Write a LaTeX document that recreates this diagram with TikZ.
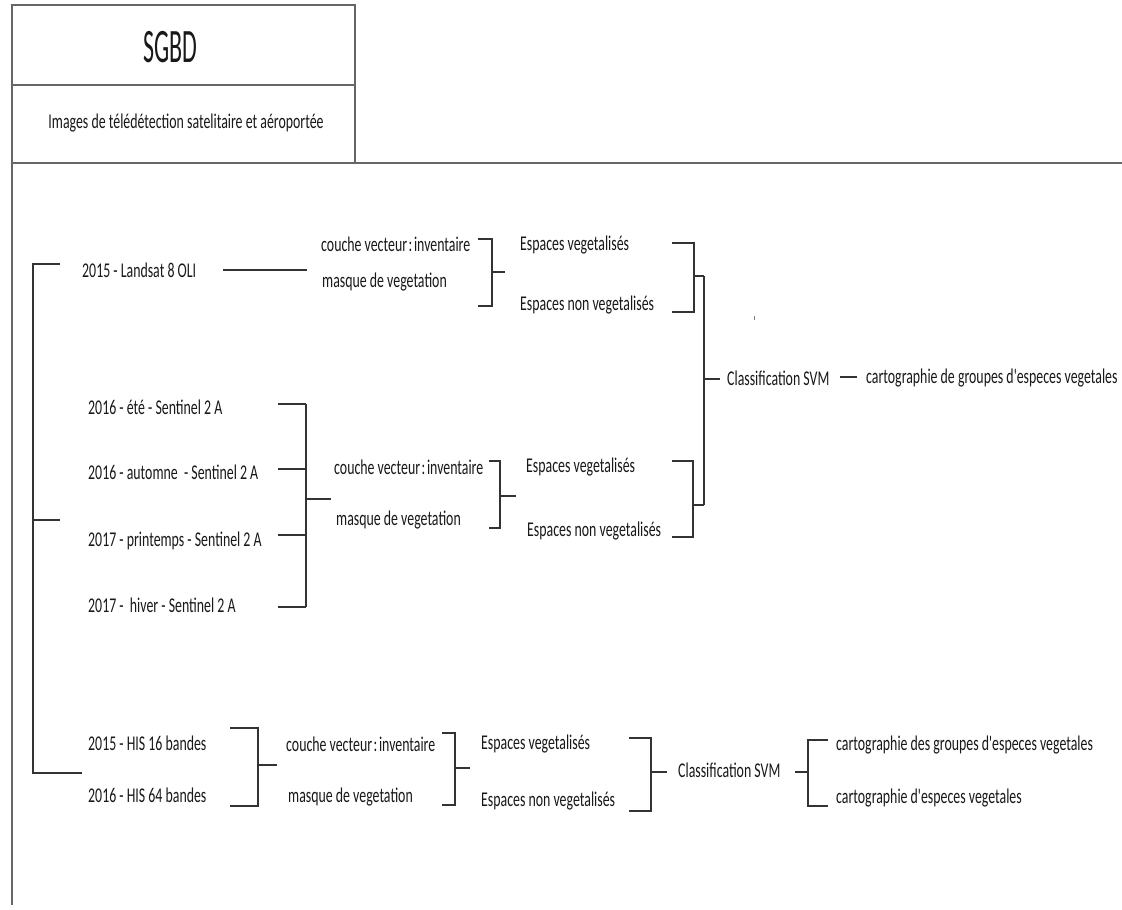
\documentclass[tikz,border=0pt]{standalone}
\usepackage{fontspec}
\newfontfamily\lblfam{Carlito}[FakeStretch=0.66]
\newfontfamily\titlefam{Carlito}[FakeStretch=0.5]
\newcommand{\cln}{\hspace{1.6pt}:\hspace{1.6pt}}
\begin{document}
\begin{tikzpicture}[x=1pt,y=-1pt,
  conn/.style={line width=1.5pt, draw=black!80},
  framel/.style={line width=1.2pt, draw=black!60},
  lbl/.style={font=\lblfam\fontsize{21}{23}\selectfont, text=black!90, inner sep=0pt, anchor=west, text height=16.5pt, text depth=4pt}]
\useasboundingbox (0,0) rectangle (1122,910);
\fill[white] (0,0) rectangle (1122,910);
% frame
\draw[framel] (12,5) rectangle (355,163);
\draw[framel] (12,85) -- (355,85);
\draw[framel] (12,163) -- (1122,163);
\draw[framel] (12,163) -- (12,905);
\node[font=\titlefam\fontsize{48}{48}\selectfont, text=black!90, inner sep=0pt] (sgbd) at (170,47) {SGBD};
\node[lbl, anchor=center] (img) at (186,122) {Images de télédétection satelitaire et aéroportée};

% outer bracket
\coordinate (o1) at (60,264); \coordinate (o2) at (33,264);
\coordinate (o3) at (33,773); \coordinate (o4) at (82,773);
\coordinate (om) at (33,520); \coordinate (omr) at (60,520);
\draw[conn] (o1) -- (o2) -- (o3) -- (o4);
\draw[conn] (om) -- (omr);

% group 1
\node[lbl] (l8) at (82,271) {2015 - Landsat 8 OLI};
\node[lbl] (cv1) at (321,245) {couche vecteur\cln inventaire};
\node[lbl] (mv1) at (322,281) {masque de vegetation};
\node[lbl] (ev1) at (520,244) {Espaces vegetalisés};
\node[lbl] (en1) at (520,304) {Espaces non vegetalisés};
\coordinate (g1a) at (223,270); \coordinate (g1b) at (307,270);
\draw[conn] (g1a) -- (g1b);
\draw[conn] (478,239) -- (492,239) -- (492,306) -- (478,306);
\draw[conn] (492,272) -- (505,272);
\draw[conn] (672,243) -- (694,243) -- (694,312) -- (672,312);
\draw[conn] (694,276) -- (704,276) coordinate (vtop);
\draw[conn] (vtop) -- (704,505) coordinate (vbot);
\draw[conn] (704,379) -- (720,379);
\node[lbl] (cls1) at (727,379) {Classification SVM};
\coordinate (d1) at (840,377); \coordinate (d2) at (857,377);
\draw[conn] (d1) -- (d2);
\node[lbl] (cart1) at (866,377) {cartographie de groupes d'especes vegetales};
\draw[line width=1pt, draw=black!50] (754,316) -- (754,320);

% group 2
\node[lbl] (s1) at (88,408) {2016 - été - Sentinel 2 A};
\node[lbl] (s2) at (88,473) {2016 - automne\ \ - Sentinel 2 A};
\node[lbl] (s3) at (88,540) {2017 - printemps - Sentinel 2 A};
\node[lbl] (s4) at (88,606) {2017 -\ \ hiver - Sentinel 2 A};
\draw[conn] (278,404) -- (306,404);
\draw[conn] (278,469) -- (306,469);
\draw[conn] (278,535) -- (306,535);
\draw[conn] (278,607) -- (306,607);
\draw[conn] (306,404) -- (306,607);
\draw[conn] (306,499) -- (331,499);
\node[lbl] (cv2) at (334,468) {couche vecteur\cln inventaire};
\node[lbl] (mv2) at (336,519) {masque de vegetation};
\draw[conn] (489,461) -- (500,461) -- (500,528) -- (489,528);
\draw[conn] (500,496) -- (516,496);
\node[lbl] (ev2) at (526,466) {Espaces vegetalisés};
\node[lbl] (en2) at (527,530) {Espaces non vegetalisés};
\draw[conn] (672,461) -- (693,461) -- (693,537) -- (672,537);
\draw[conn] (693,505) -- (vbot);

% group 3
\node[lbl] (h1) at (88,744) {2015 - HIS 16 bandes};
\node[lbl] (h2) at (88,796) {2016 - HIS 64 bandes};
\draw[conn] (230,728) -- (258,728) -- (258,806) -- (230,806);
\draw[conn] (258,765) -- (277,765);
\node[lbl] (cv3) at (286,745) {couche vecteur\cln inventaire};
\node[lbl] (mv3) at (288,796) {masque de vegetation};
\draw[conn] (442,733) -- (455,733) -- (455,805) -- (442,805);
\draw[conn] (455,768) -- (470,768);
\node[lbl] (ev3) at (481,743) {Espaces vegetalisés};
\node[lbl] (en3) at (481,800) {Espaces non vegetalisés};
\draw[conn] (629,738) -- (651,738) -- (651,811) -- (629,811);
\draw[conn] (651,772) -- (667,772);
\node[lbl] (cls3) at (678,771) {Classification SVM};
\draw[conn] (795,772) -- (808,772);
\draw[conn] (828,740) -- (808,740) -- (808,806) -- (828,806);
\node[lbl] (cart2) at (836,744) {cartographie des groupes d'especes vegetales};
\node[lbl] (cart3) at (836,797) {cartographie d'especes vegetales};
\end{tikzpicture}
\end{document}
